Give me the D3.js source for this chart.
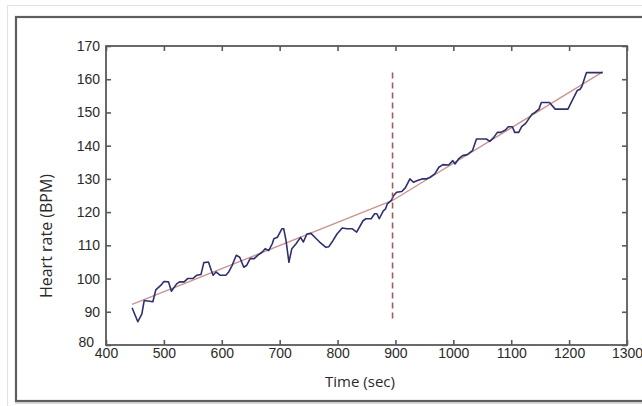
<!DOCTYPE html>
<html>
<head>
<meta charset="utf-8">
<script src="https://cdn.jsdelivr.net/npm/d3@7"></script>
<style>
  html, body { margin: 0; padding: 0; background: #ffffff; }
  svg { display: block; }
</style>
</head>
<body>
<svg id="chart" width="642" height="406"></svg>
<script>
// ---- data ----
const timeSec = [445, 455, 462, 466, 481, 486, 495, 500, 508, 513, 522, 527, 535, 541, 550, 557, 564, 569, 577, 582, 585, 590, 597, 607, 612, 618, 625, 631, 638, 643, 649, 656, 662, 670, 675, 681, 687, 690, 696, 704, 707, 711, 716, 721, 728, 736, 741, 747, 754, 762, 769, 780, 785, 792, 799, 808, 816, 825, 833, 844, 849, 858, 864, 868, 872, 879, 883, 886, 893, 897, 902, 911, 917, 925, 931, 938, 946, 953, 960, 968, 975, 982, 992, 999, 1003, 1009, 1016, 1024, 1033, 1040, 1049, 1057, 1063, 1070, 1076, 1082, 1090, 1095, 1102, 1106, 1113, 1118, 1125, 1130, 1136, 1141, 1148, 1152, 1166, 1176, 1198, 1205, 1214, 1219, 1222, 1230, 1258];
const heartRate = [91.2, 87, 89.4, 93.4, 93, 96.6, 98, 99.1, 99, 96.2, 98.4, 99, 99, 100, 100, 101, 101.2, 104.8, 105, 102.4, 101, 102, 101, 101, 102, 104, 107, 106.4, 103.4, 104, 106, 106, 107, 108, 109, 108.4, 110.4, 112, 112.4, 115, 115, 111.4, 104.9, 109, 110.4, 112.4, 111, 113.4, 113.6, 112.2, 111, 109.4, 109.6, 111.4, 113.4, 115.2, 115, 115, 114, 117.4, 118, 118, 119.5, 119.5, 118, 120.4, 121, 122.5, 123.5, 125, 126, 126.2, 127.3, 130, 129, 129.5, 130, 130, 130.5, 131.5, 133.5, 134.3, 134.2, 135.5, 134.5, 136, 137, 137.3, 138.5, 142, 142, 142, 141.3, 142.5, 144, 144, 144.7, 145.7, 145.7, 144, 144, 145.7, 146.7, 148, 149.5, 150, 151, 153, 153, 151, 151, 153.5, 156.6, 157, 157.8, 162, 162];

const fitTime = [445, 895, 1258];
const fitHR = [92.2, 123.5, 162.2];

const changeTime = [895, 895];
const changeHR = [88, 162.5];

const xTicks = [400, 500, 600, 700, 800, 900, 1000, 1100, 1200, 1300];
const yTicks = [80, 90, 100, 110, 120, 130, 140, 150, 160, 170];

const xTitle = "Time (sec)";
const yTitle = "Heart rate (BPM)";

// ---- layout ----
const svg = d3.select("#chart");
const L = 106, R = 627, T = 46, B = 345;

// outer light border and dark frame
svg.append("rect").attr("x", 7.5).attr("y", 5.5).attr("width", 660).attr("height", 420)
  .attr("fill", "#ffffff").attr("stroke", "#e2e2e2").attr("stroke-width", 1);
svg.append("rect").attr("x", 16).attr("y", 17).attr("width", 660).attr("height", 384)
  .attr("fill", "#ffffff").attr("stroke", "#5e5e5e").attr("stroke-width", 2.2);
svg.append("line").attr("x1", 15).attr("x2", 642).attr("y1", 403).attr("y2", 403)
  .attr("stroke", "#b0b0b0").attr("stroke-width", 1);

const x = d3.scaleLinear().domain([400, 1300]).range([L, R]);
const y = d3.scaleLinear().domain([80, 170]).range([B, T]);

const axisColor = "#5a5a5a";
const tickFont = "'Liberation Sans', Arial, sans-serif";
const fmt = d3.format("d");

function styleAxis(g) {
  g.select(".domain").remove();
  g.selectAll(".tick line").attr("stroke", axisColor).attr("stroke-width", 1.6);
  g.selectAll(".tick text").attr("fill", "#2a2a2a").attr("font-size", 14)
    .attr("font-family", tickFont);
}

svg.append("g").attr("transform", `translate(0,${B})`)
  .call(d3.axisBottom(x).tickValues(xTicks).tickFormat(fmt).tickSizeInner(-5).tickSizeOuter(0).tickPadding(3))
  .call(styleAxis);
const yAxisG = svg.append("g").attr("transform", `translate(${L},0)`)
  .call(d3.axisLeft(y).tickValues(yTicks).tickFormat(fmt).tickSizeInner(-5).tickSizeOuter(0).tickPadding(6))
  .call(styleAxis);
// nudge the corner "80" label so it sits just left of and above "400"
yAxisG.selectAll(".tick text").filter(d => d === 80).attr("x", -12).attr("y", -3);

svg.append("g").attr("transform", `translate(0,${T})`)
  .call(d3.axisTop(x).tickValues(xTicks).tickSizeInner(-5).tickSizeOuter(0).tickFormat(""))
  .call(styleAxis);
svg.append("g").attr("transform", `translate(${R},0)`)
  .call(d3.axisRight(y).tickValues(yTicks).tickSizeInner(-5).tickSizeOuter(0).tickFormat(""))
  .call(styleAxis);

// plot box
svg.append("rect").attr("x", L).attr("y", T).attr("width", R - L).attr("height", B - T)
  .attr("fill", "none").attr("stroke", axisColor).attr("stroke-width", 1.8);

// fit line
const line = d3.line().x(d => x(d[0])).y(d => y(d[1]));
svg.append("path").datum(fitTime.map((t, i) => [t, fitHR[i]]))
  .attr("d", line).attr("fill", "none").attr("stroke", "#c99590").attr("stroke-width", 1.4);

// heart rate trace
svg.append("path").datum(timeSec.map((t, i) => [t, heartRate[i]]))
  .attr("d", line).attr("fill", "none").attr("stroke", "#2e2f70").attr("stroke-width", 1.6)
  .attr("stroke-linejoin", "round");

// change point dashed line
svg.append("path").datum(changeTime.map((t, i) => [t, changeHR[i]]))
  .attr("d", line).attr("fill", "none").attr("stroke", "#a05a62").attr("stroke-width", 1.6)
  .attr("stroke-dasharray", "6,4");

// titles
svg.append("text").attr("x", 360).attr("y", 387).attr("text-anchor", "middle")
  .attr("font-family", "'Open Sans', sans-serif").attr("font-size", 15).attr("fill", "#2a2a2a")
  .text(xTitle);
svg.append("text").attr("transform", "translate(52,236) rotate(-90)").attr("text-anchor", "middle")
  .attr("font-family", "'Open Sans', sans-serif").attr("font-size", 16).attr("fill", "#2a2a2a")
  .text(yTitle);
</script>
</body>
</html>
